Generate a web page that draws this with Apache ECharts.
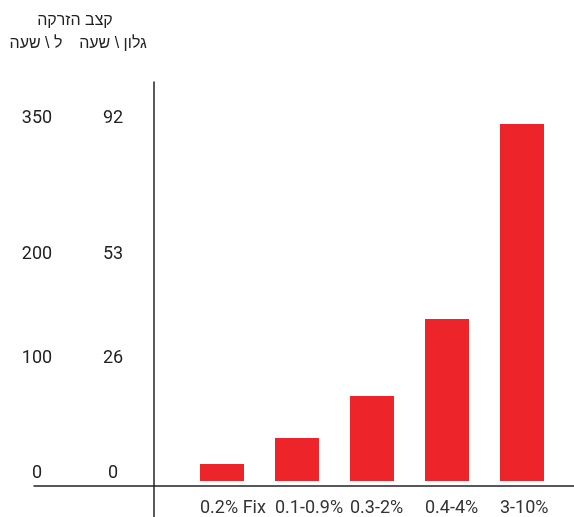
<!DOCTYPE html>
<html dir="ltr">
<head>
<meta charset="utf-8">
<script src="https://cdn.jsdelivr.net/npm/echarts@6/dist/echarts.min.js"></script>
<style>html,body{margin:0;padding:0;background:#fff}#chart{width:574px;height:517px}</style>
</head>
<body>
<div id="chart"></div>
<script>
// Data
const categories = ['0.2% Fix', '0.1-0.9%', '0.3-2%', '0.4-4%', '3-10%'];
const flowLitersPerHour = [17, 43, 85, 162, 357];
const litersTickLabels = ['0', '100', '200', '350'];
const gallonsTickLabels = ['0', '26', '53', '92'];
const tickLabelPositions = [8, 123, 227, 363]; // where the labels sit on the value scale
const titleText = 'קצב הזרקה';
const litersUnit = 'ל \\ שעה';
const gallonsUnit = 'גלון \\ שעה';

const labelFont = 'Roboto, "Liberation Sans", sans-serif';
const hebFont = '"Liberation Sans", "DejaVu Sans", sans-serif';

function labelFor(arr) {
  return function (v) {
    const i = tickLabelPositions.indexOf(v);
    return i >= 0 ? arr[i] : '';
  };
}

const chart = echarts.init(document.getElementById('chart'), null, {renderer: 'canvas'});
chart.setOption({
  animation: false,
  backgroundColor: '#fff',
  title: [
    {text: titleText, left: 75, top: 13, padding: 0, textAlign: 'center',
     textStyle: {fontFamily: hebFont, fontSize: 16, fontWeight: 'normal', color: '#222'}},
    {text: litersUnit, left: 36, top: 36, padding: 0, textAlign: 'center',
     textStyle: {fontFamily: hebFont, fontSize: 16, fontWeight: 'normal', color: '#222'}},
    {text: gallonsUnit, left: 113, top: 36, padding: 0, textAlign: 'center',
     textStyle: {fontFamily: hebFont, fontSize: 16, fontWeight: 'normal', color: '#222'}}
  ],
  grid: [
    {left: 184.5, right: 14.5, top: 111, bottom: 36},
    {left: 34, right: 0, top: 82, bottom: 0},
    {left: 162.5, right: 36.5, top: 111, bottom: 36}
  ],
  xAxis: [
    {type: 'category', gridIndex: 0, data: categories,
     axisLine: {show: false}, axisTick: {show: false}, axisLabel: {show: false}},
    {type: 'value', gridIndex: 1, min: 0, max: 1, position: 'bottom', offset: -31,
     axisLine: {show: true, onZero: false, lineStyle: {color: '#222', width: 1.5}},
     axisTick: {show: false}, axisLabel: {show: false}, splitLine: {show: false}},
    {type: 'category', gridIndex: 2, data: categories,
     axisLine: {show: false}, axisTick: {show: false},
     axisLabel: {interval: 0, margin: 23, align: 'left', fontSize: 18, color: '#333', fontFamily: labelFont}}
  ],
  yAxis: [
    {type: 'value', gridIndex: 0, min: 0, max: 370, position: 'left',
     axisLine: {show: false}, axisTick: {show: false}, splitLine: {show: false},
     axisLabel: {customValues: tickLabelPositions, formatter: labelFor(litersTickLabels),
       margin: 147.5, align: 'center',
       fontSize: 18, color: '#222', fontFamily: labelFont}},
    {type: 'value', gridIndex: 0, min: 0, max: 370, position: 'left',
     axisLine: {show: false}, axisTick: {show: false}, splitLine: {show: false},
     axisLabel: {customValues: tickLabelPositions, formatter: labelFor(gallonsTickLabels),
       margin: 71.5, align: 'center',
       fontSize: 18, color: '#222', fontFamily: labelFont}},
    {type: 'value', gridIndex: 1, min: 0, max: 1, position: 'left', offset: -120,
     axisLine: {show: true, onZero: false, lineStyle: {color: '#222', width: 1.5}},
     axisTick: {show: false}, axisLabel: {show: false}, splitLine: {show: false}},
    {type: 'value', gridIndex: 2, min: 0, max: 1, show: false}
  ],
  series: [
    {type: 'bar', xAxisIndex: 0, yAxisIndex: 0, data: flowLitersPerHour,
     barWidth: 44, itemStyle: {color: '#ED252A'}}
  ]
});
</script>
</body>
</html>
